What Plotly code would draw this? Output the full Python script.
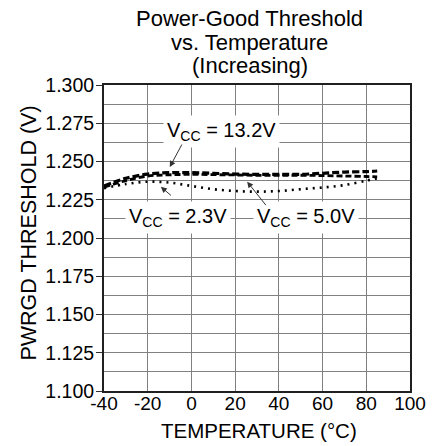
import plotly.graph_objects as go

temps = [-40, -30, -20, -10, 0, 10, 20, 30, 40, 50, 60, 70, 80, 85]
v13_2 = [1.2340, 1.2390, 1.2418, 1.2427, 1.2427, 1.2423, 1.2418, 1.2416, 1.2416, 1.2416, 1.2423, 1.2431, 1.2434, 1.2438]
v5_0 = [1.2332, 1.2375, 1.2405, 1.2413, 1.2416, 1.2414, 1.2412, 1.2410, 1.2410, 1.2410, 1.2408, 1.2405, 1.2402, 1.2400]
v2_3 = [1.2325, 1.2353, 1.2368, 1.2362, 1.2340, 1.2319, 1.2307, 1.2303, 1.2307, 1.2319, 1.2330, 1.2346, 1.2375, 1.2390]

x_ticks = [-40, -20, 0, 20, 40, 60, 80, 100]
y_ticks = [1.100, 1.125, 1.150, 1.175, 1.200, 1.225, 1.250, 1.275, 1.300]

title_lines = ["Power-Good Threshold", "vs. Temperature", "(Increasing)"]

labels = [
    ("V<sub>CC</sub> = 13.2V", 13.8, 1.2699),
    ("V<sub>CC</sub> = 2.3V", -6.3, 1.2131),
    ("V<sub>CC</sub> = 5.0V", 52.6, 1.2131),
]
# (tail_x, tail_y, head_x, head_y)
arrows = [
    (-4.0, 1.2621, -9.9, 1.2464),
    (-8.7, 1.2270, -14.0, 1.2335),
    (34.6, 1.2205, 25.5, 1.2368),
]

FONT = "Liberation Sans, Arial, sans-serif"

fig = go.Figure()
fig.add_trace(go.Scatter(x=temps, y=v2_3, mode="lines", line=dict(color="black", width=2.6, dash="2px,5px"),
                         line_shape="spline", showlegend=False))
fig.add_trace(go.Scatter(x=temps, y=v5_0, mode="lines", line=dict(color="black", width=2.8, dash="6px,3px"),
                         line_shape="spline", showlegend=False))
fig.add_trace(go.Scatter(x=temps, y=v13_2, mode="lines", line=dict(color="black", width=3.2, dash="7px,3px"),
                         line_shape="spline", showlegend=False))

for txt, x, y in labels:
    fig.add_annotation(x=x, y=y, xref="x", yref="y", text=txt, showarrow=False,
                       font=dict(family=FONT, size=20, color="black"),
                       bgcolor="white", borderpad=3)
for tx, ty, hx, hy in arrows:
    fig.add_annotation(x=hx, y=hy, ax=tx, ay=ty, xref="x", yref="y", axref="x", ayref="y",
                       text="", showarrow=True, arrowhead=2, arrowsize=1.2, arrowwidth=1,
                       arrowcolor="#333333", standoff=0)

# Title (one annotation per line for tight line spacing) and axis titles
for line, yp in zip(title_lines, [1.2167, 1.1405, 1.0621]):
    fig.add_annotation(text=line, xref="paper", yref="paper", x=0.477, y=yp,
                       xanchor="center", yanchor="middle", showarrow=False,
                       font=dict(family=FONT, size=22, color="black"))
fig.add_annotation(text="PWRGD THRESHOLD (V)", xref="paper", yref="paper", x=-0.248, y=0.5147,
                   xanchor="center", yanchor="middle", textangle=-90, showarrow=False,
                   font=dict(family=FONT, size=21.5, color="black"))
fig.add_annotation(text="TEMPERATURE (°C)", xref="paper", yref="paper", x=0.508, y=-0.1297,
                   xanchor="center", yanchor="middle", showarrow=False,
                   font=dict(family=FONT, size=20.5, color="black"))

# page body has an 8px default margin, so the figure is 8px smaller and margins shifted
fig.update_layout(
    width=436, height=438,
    margin=dict(l=96, r=34, t=77, b=55, autoexpand=False),
    paper_bgcolor="white", plot_bgcolor="white",
    font=dict(family=FONT, size=19, color="black"),
)
fig.update_xaxes(range=[-40, 100], tickvals=x_ticks, ticktext=[str(v) for v in x_ticks],
                 showgrid=True, gridcolor="#808080", gridwidth=1.3,
                 showline=True, linecolor="#202020", linewidth=2, mirror=True,
                 ticks="", zeroline=False, automargin=False, ticklabelstandoff=-6,
                 tickfont=dict(family=FONT, size=19))
fig.update_yaxes(range=[1.100, 1.300], tickvals=y_ticks, ticktext=["%.3f" % v for v in y_ticks],
                 showgrid=True, gridcolor="#808080", gridwidth=1.3,
                 minor=dict(dtick=0.0125, tick0=1.1, showgrid=True, gridcolor="#808080", gridwidth=1.3),
                 showline=True, linecolor="#202020", linewidth=2, mirror=True,
                 ticks="outside", ticklen=6, tickcolor="#303030", zeroline=False, automargin=False,
                 ticklabelstandoff=-2,
                 tickfont=dict(family=FONT, size=19.5))

fig.write_html("out.html")
